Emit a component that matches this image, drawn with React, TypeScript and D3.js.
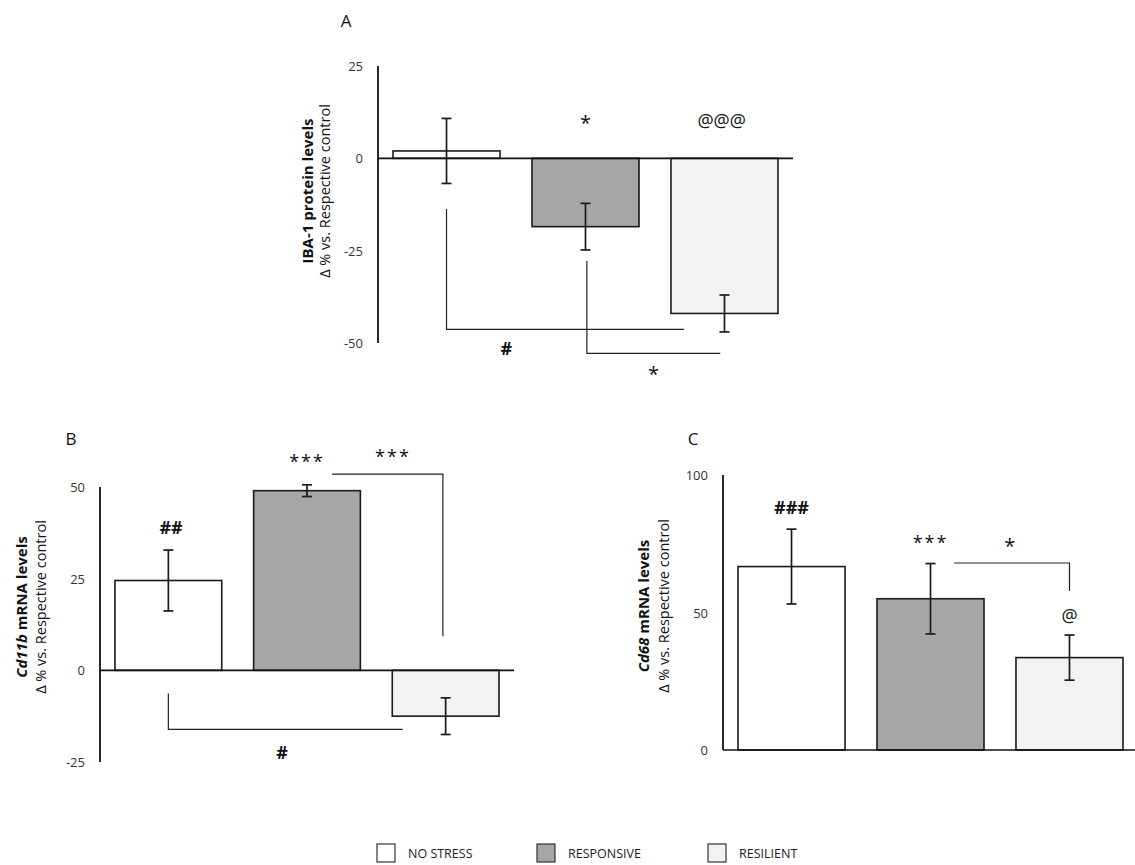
import React from "react";
import * as d3 from "d3";

// groups shown in every panel
const groups = ["NO STRESS", "RESPONSIVE", "RESILIENT"];
const fills = ["#ffffff", "#a6a6a6", "#f2f2f2"];

// panel A - IBA-1 protein
const ibaMean = [2, -18.5, -42];
const ibaErr = [8.8, 6.3, 5];
const ibaTicks = [25, 0, -25, -50];

// panel B - Cd11b mRNA
const cd11bMean = [24.5, 49, -12.5];
const cd11bErr = [8.3, 1.6, 5];
const cd11bTicks = [50, 25, 0, -25];

// panel C - Cd68 mRNA
const cd68Mean = [66.7, 55, 33.6];
const cd68Err = [13.6, 12.8, 8.2];
const cd68Ticks = [100, 50, 0];

const font = "'Open Sans', 'Noto Sans', sans-serif";

type Note = { text: string; p: number; v: number; size?: number; spacing?: number; weight?: string };
type Bracket = { pts: [number, number][] };

type PanelProps = {
  letter: string;
  letterPos: [number, number];
  xRange: [number, number];
  yDomain: [number, number];
  yRange: [number, number];
  zeroEnd?: number;
  mean: number[];
  err: number[];
  ticks: number[];
  label1: React.ReactNode;
  label2: string;
  labelX: [number, number];
  labelY: number;
  notes: Note[];
  brackets: Bracket[];
};

function Panel(props: PanelProps) {
  const x = d3.scaleBand<string>()
    .domain(groups)
    .range(props.xRange)
    .paddingInner(0.23)
    .paddingOuter(0.108);
  const y = d3.scaleLinear().domain(props.yDomain).range(props.yRange);
  const bw = x.bandwidth();
  const step = x.step();
  // fractional category position -> pixel
  const px = (p: number) => (x(groups[0]) as number) + bw / 2 + p * step;
  const axisX = props.xRange[0];
  const line = d3.line<[number, number]>().x(d => px(d[0])).y(d => y(d[1]));

  return (
    <g>
      <text x={props.letterPos[0]} y={props.letterPos[1]} fontSize={17} fontFamily={font}
        textAnchor="middle" dominantBaseline="central" fill="#111">{props.letter}</text>

      {/* bars */}
      {props.mean.map((m, i) => (
        <rect key={i} x={x(groups[i])} width={bw}
          y={Math.min(y(m), y(0))} height={Math.abs(y(m) - y(0))}
          fill={fills[i]} stroke="#1a1a1a" strokeWidth={1.6} />
      ))}

      {/* axes */}
      <line x1={axisX} x2={axisX} y1={y(props.yDomain[1])} y2={y(props.yDomain[0])}
        stroke="#111" strokeWidth={1.8} />
      <line x1={axisX} x2={props.zeroEnd ?? props.xRange[1]} y1={y(0)} y2={y(0)}
        stroke="#111" strokeWidth={1.6} />
      {props.ticks.map(t => (
        <text key={t} x={axisX - 15} y={y(t)} fontSize={13} fontFamily={font}
          textAnchor="end" dominantBaseline="central" fill="#333">{t}</text>
      ))}

      {/* error bars */}
      {props.mean.map((m, i) => {
        const cx = px(i);
        const top = y(m + props.err[i]);
        const bot = y(m - props.err[i]);
        return (
          <g key={i} stroke="#1a1a1a" strokeWidth={1.7}>
            <line x1={cx} x2={cx} y1={top} y2={bot} />
            <line x1={cx - 5} x2={cx + 5} y1={top} y2={top} />
            <line x1={cx - 5} x2={cx + 5} y1={bot} y2={bot} />
          </g>
        );
      })}

      {/* comparison brackets */}
      {props.brackets.map((b, i) => (
        <path key={i} d={line(b.pts) || ""} fill="none" stroke="#222" strokeWidth={1.2} />
      ))}

      {/* significance marks */}
      {props.notes.map((n, i) => (
        <text key={i} x={px(n.p)} y={y(n.v)} fontSize={n.size ?? 17} fontFamily={font}
          letterSpacing={n.spacing ?? 0} fontWeight={n.weight ?? "normal"}
          textAnchor="middle" dominantBaseline="central" fill="#111">{n.text}</text>
      ))}

      {/* y label */}
      <g transform={`translate(${props.labelX[0]},${props.labelY}) rotate(-90)`}>
        <text fontSize={15} fontWeight="bold" fontFamily={font} textAnchor="middle"
          dominantBaseline="central" fill="#111">{props.label1}</text>
      </g>
      <g transform={`translate(${props.labelX[1]},${props.labelY}) rotate(-90)`}>
        <text fontSize={14.5} fontFamily={font} textAnchor="middle"
          dominantBaseline="central" fill="#111">{props.label2}</text>
      </g>
    </g>
  );
}

export default function App() {
  const legendX = [377, 537, 708];
  return (
    <svg width={1135} height={865} style={{ position: "absolute", left: 0, top: 0, background: "#fff" }}>
      <Panel
        letter="A" letterPos={[346, 20]}
        xRange={[378, 793]} yDomain={[-50, 25]} yRange={[343, 66]}
        mean={ibaMean} err={ibaErr} ticks={ibaTicks}
        label1="IBA-1 protein levels" label2="Δ % vs.  Respective control"
        labelX={[307, 324]} labelY={191}
        notes={[
          { text: "*", p: 1, v: 9.8, size: 20 },
          { text: "@@@", p: 1.98, v: 10.4, size: 18 },
          { text: "#", p: 0.43, v: -51.4, size: 18, weight: "bold" },
          { text: "*", p: 1.49, v: -58.2, size: 20 },
        ]}
        brackets={[
          { pts: [[0, -13.7], [0, -46.3], [1.71, -46.3]] },
          { pts: [[1.01, -27.8], [1.01, -52.8], [1.97, -52.8]] },
        ]}
      />
      <Panel
        letter="B" letterPos={[71, 438]}
        xRange={[100, 514]} yDomain={[-25, 50]} yRange={[762, 487]}
        mean={cd11bMean} err={cd11bErr} ticks={cd11bTicks}
        label1={<><tspan fontStyle="italic">Cd11b</tspan> mRNA levels</>}
        label2="Δ % vs. Respective control"
        labelX={[21, 40]} labelY={607}
        notes={[
          { text: "##", p: 0.02, v: 39, size: 18, weight: "bold" },
          { text: "***", p: 1, v: 57, size: 18, spacing: 2 },
          { text: "***", p: 1.62, v: 58.4, size: 18, spacing: 2 },
          { text: "#", p: 0.82, v: -22.4, size: 18, weight: "bold" },
        ]}
        brackets={[
          { pts: [[1.18, 53.5], [1.98, 53.5], [1.98, 9.3]] },
          { pts: [[0, -6.3], [0, -16.1], [1.69, -16.1]] },
        ]}
      />
      <Panel
        letter="C" letterPos={[693, 438]}
        xRange={[723, 1138]} yDomain={[0, 100]} yRange={[750, 475]}
        mean={cd68Mean} err={cd68Err} ticks={cd68Ticks}
        label1={<><tspan fontStyle="italic">Cd68</tspan> mRNA levels</>}
        label2="Δ % vs. Respective control"
        labelX={[643, 663]} labelY={606}
        notes={[
          { text: "###", p: 0, v: 88.4, size: 18, weight: "bold" },
          { text: "***", p: 1, v: 75.6, size: 18, spacing: 2 },
          { text: "*", p: 1.57, v: 74.2, size: 20 },
          { text: "@", p: 2, v: 49.1, size: 18 },
        ]}
        brackets={[
          { pts: [[1.17, 68], [2, 68], [2, 57.8]] },
        ]}
      />

      {/* legend */}
      {groups.map((g, i) => (
        <g key={g}>
          <rect x={legendX[i]} y={844} width={18} height={18} fill={fills[i]}
            stroke="#333" strokeWidth={1.2} />
          <text x={legendX[i] + 31} y={853} fontSize={12.5} fontFamily={font}
            dominantBaseline="central" fill="#222">{g}</text>
        </g>
      ))}
    </svg>
  );
}
